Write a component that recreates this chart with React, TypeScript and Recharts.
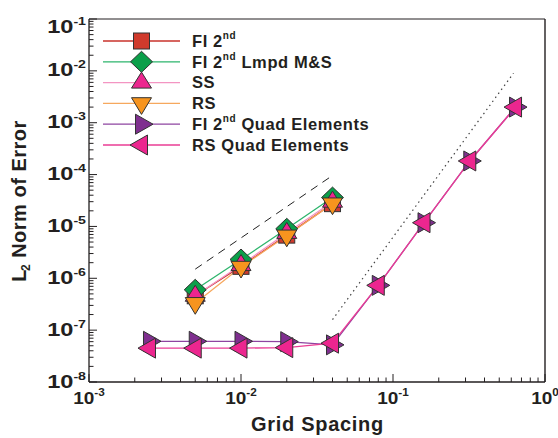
import React from 'react';
import { LineChart, Line, XAxis, YAxis, ReferenceLine, Legend } from 'recharts';

// ---- data ----
const X_GROUP1 = [0.005, 0.01, 0.02, 0.04];
const FI2 = [4.6e-7, 1.7e-6, 6.8e-6, 2.75e-5];
const FI2_LMPD = [6.0e-7, 2.3e-6, 9.0e-6, 3.6e-5];
const SS = [4.6e-7, 1.8e-6, 7.5e-6, 3.0e-5];
const RS = [3.3e-7, 1.65e-6, 6.6e-6, 2.75e-5];

const X_QUAD = [0.0025, 0.005, 0.01, 0.02, 0.04, 0.08, 0.16, 0.32, 0.64];
const FI2_QUAD = [6.1e-8, 6.1e-8, 6.1e-8, 6.0e-8, 5.2e-8, 7.3e-7, 1.18e-5, 1.83e-4, 2.0e-3];
const RS_QUAD = [4.5e-8, 4.5e-8, 4.5e-8, 4.6e-8, 5.6e-8, 7.3e-7, 1.18e-5, 1.83e-4, 2.0e-3];

const SECOND_ORDER_X = [0.005, 0.04];
const SECOND_ORDER_Y = [1.5e-6, 9.6e-5];
const FOURTH_ORDER_X = [0.04, 0.62];
const FOURTH_ORDER_Y = [1.6e-7, 9.0e-3];

const X_MAJOR = [0.001, 0.01, 0.1, 1];
const Y_MAJOR = [1e-8, 1e-7, 1e-6, 1e-5, 1e-4, 1e-3, 1e-2, 1e-1];
const X_DOMAIN = [0.001, 1];
const Y_DOMAIN = [1e-8, 0.1];

const X_TITLE = 'Grid Spacing';
const Y_TITLE_MAIN = 'L';
const Y_TITLE_SUB = '2';
const Y_TITLE_REST = ' Norm of Error';

const zip = (xs: number[], ys: number[]) => xs.map((x, i) => ({ x, y: ys[i] }));

const minorTicks = (majors: number[]) => {
  const out: number[] = [];
  majors.forEach((m, i) => {
    out.push(m);
    if (i < majors.length - 1) {
      for (let k = 2; k <= 9; k++) out.push(parseFloat((m * k).toPrecision(6)));
    }
  });
  return out;
};

const X_TICKS = minorTicks(X_MAJOR);
const Y_TICKS = minorTicks(Y_MAJOR);

type SeriesCfg = {
  name: string;
  sup?: string;
  rest?: string;
  data: { x: number; y: number }[];
  shape: string;
  fill: string;
  line: string;
};

const SERIES: SeriesCfg[] = [
  { name: 'FI 2nd', sup: 'nd', rest: '', data: zip(X_GROUP1, FI2), shape: 'square', fill: '#d03a2c', line: '#c8322b' },
  { name: 'FI 2nd Lmpd M&S', sup: 'nd', rest: ' Lmpd M&S', data: zip(X_GROUP1, FI2_LMPD), shape: 'diamond', fill: '#0b9f4a', line: '#2db56c' },
  { name: 'SS', data: zip(X_GROUP1, SS), shape: 'up', fill: '#ec268f', line: '#f395c2' },
  { name: 'RS', data: zip(X_GROUP1, RS), shape: 'down', fill: '#f7941e', line: '#f6a85e' },
  { name: 'FI 2nd Quad Elements', sup: 'nd', rest: ' Quad Elements', data: zip(X_QUAD, FI2_QUAD), shape: 'right', fill: '#7f2f8f', line: '#8e44a0' },
  { name: 'RS Quad Elements', data: zip(X_QUAD, RS_QUAD), shape: 'left', fill: '#ec268f', line: '#ea3d95' },
];

const FONT = '"Liberation Sans", Arial, Helvetica, sans-serif';
const INK = '#231f20';

const Marker = ({ shape, cx, cy, fill }: { shape: string; cx: number; cy: number; fill: string }) => {
  const s = { fill, stroke: '#333', strokeWidth: 1 };
  let pts = '';
  switch (shape) {
    case 'square':
      return <rect x={cx - 8} y={cy - 8} width={16} height={16} {...s} />;
    case 'diamond':
      pts = `${cx},${cy - 10.5} ${cx + 11},${cy} ${cx},${cy + 10.5} ${cx - 11},${cy}`;
      break;
    case 'up':
      pts = `${cx},${cy - 10.5} ${cx + 10},${cy + 5.5} ${cx - 10},${cy + 5.5}`;
      break;
    case 'down':
      pts = `${cx},${cy + 11} ${cx + 10},${cy - 5.7} ${cx - 10},${cy - 5.7}`;
      break;
    case 'right':
      pts = `${cx + 11.5},${cy} ${cx - 6},${cy - 10} ${cx - 6},${cy + 10}`;
      break;
    case 'left':
      pts = `${cx - 11.5},${cy} ${cx + 6},${cy - 10} ${cx + 6},${cy + 10}`;
      break;
  }
  return <polygon points={pts} {...s} />;
};

const isMajor = (v: number) => {
  const e = Math.round(Math.log10(v));
  return Math.abs(v / Math.pow(10, e) - 1) < 1e-6;
};

const XTick = (props: any) => {
  const { x, y, payload } = props;
  const v = payload.value;
  const major = isMajor(v);
  const e = Math.round(Math.log10(v));
  return (
    <g>
      <line x1={x} x2={x} y1={y} y2={y - (major ? 8 : 4.5)} stroke={INK} strokeWidth={1} />
      {major && (
        <g transform={`translate(${x},${y + 22})`}>
          <text transform="scale(1.12,1)" textAnchor="middle" fontFamily={FONT} fontWeight="bold" fill={INK}>
            <tspan fontSize={17}>10</tspan>
            <tspan fontSize={10.5} dy={-8}>{e === 0 ? '0' : `-${-e}`}</tspan>
          </text>
        </g>
      )}
    </g>
  );
};

const YTick = (props: any) => {
  const { x, y, payload } = props;
  const v = payload.value;
  const major = isMajor(v);
  const e = Math.round(Math.log10(v));
  const dy = e === -1 ? 14 : 5.5;
  return (
    <g>
      <line x1={x} x2={x + (major ? 8 : 4.5)} y1={y} y2={y} stroke={INK} strokeWidth={1} />
      {major && (
        <g transform={`translate(${x - 3},${y + dy})`}>
          <text transform="scale(1.35,1)" textAnchor="end" fontFamily={FONT} fontWeight="bold" fill={INK}>
            <tspan fontSize={17.5}>10</tspan>
            <tspan fontSize={10.5} dy={-8}>{`-${-e}`}</tspan>
          </text>
        </g>
      )}
    </g>
  );
};

const XTitle = () => (
  <text x={317.5} y={430.5} textAnchor="middle" fontFamily={FONT} fontWeight="bold" fontSize={20} letterSpacing={0.7} fill={INK}>
    {X_TITLE}
  </text>
);

const YTitle = () => (
  <text transform="translate(26,201) rotate(-90)" textAnchor="middle" fontFamily={FONT} fontWeight="bold" fontSize={20} letterSpacing={0.5} fill={INK}>
    <tspan>{Y_TITLE_MAIN}</tspan>
    <tspan fontSize={12} dy={4} dx={-2}>{Y_TITLE_SUB}</tspan>
    <tspan dy={-4}>{Y_TITLE_REST}</tspan>
  </text>
);

const LegendContent = (props: any) => {
  const payload = (props.payload || []) as any[];
  const names = new Set(payload.map((p) => p.value));
  const items = SERIES.filter((s) => names.has(s.name));
  return (
    <svg width={558} height={170} style={{ display: 'block', overflow: 'visible' }}>
      {items.map((s, i) => {
        const cy = 41 + i * 20.8;
        const base = s.sup ? s.name.split(' ')[0] + ' 2' : s.name;
        return (
          <g key={s.name}>
            <line x1={103} x2={180} y1={cy} y2={cy} stroke={s.line} strokeWidth={1.3} />
            <Marker shape={s.shape} cx={141.5} cy={cy} fill={s.fill} />
            <text x={192} y={cy + 5.8} fontFamily={FONT} fontWeight="bold" fontSize={16.5} letterSpacing={0.6} fill={INK}>
              <tspan>{base}</tspan>
              {s.sup && (
                <tspan fontSize={10} dy={-8}>
                  {s.sup}
                </tspan>
              )}
              {s.sup && <tspan dy={8}>{s.rest}</tspan>}
            </text>
          </g>
        );
      })}
    </svg>
  );
};

export default function App() {
  return (
    <div style={{ position: 'absolute', left: 0, top: 0, width: 558, height: 438, background: '#fff' }}>
      <LineChart width={558} height={438} margin={{ top: 19, right: 13, bottom: 0, left: 29 }}>
        <XAxis
          dataKey="x"
          type="number"
          scale="log"
          domain={X_DOMAIN}
          allowDataOverflow
          ticks={X_TICKS}
          interval={0}
          tickSize={0}
          tickMargin={0}
          tickLine={false}
          tick={<XTick />}
          height={56}
          axisLine={{ stroke: INK, strokeWidth: 1.3 }}
          label={<XTitle />}
        />
        <YAxis
          dataKey="y"
          type="number"
          scale="log"
          domain={Y_DOMAIN}
          allowDataOverflow
          ticks={Y_TICKS}
          interval={0}
          tickSize={0}
          tickMargin={0}
          tickLine={false}
          tick={<YTick />}
          width={60}
          axisLine={{ stroke: INK, strokeWidth: 1.3 }}
          label={<YTitle />}
        />
        <ReferenceLine y={Y_DOMAIN[1]} stroke={INK} strokeWidth={1} />
        <ReferenceLine x={X_DOMAIN[1]} stroke={INK} strokeWidth={1.4} />
        <Line
          data={zip(SECOND_ORDER_X, SECOND_ORDER_Y)}
          dataKey="y"
          stroke="#222"
          strokeWidth={1}
          strokeDasharray="8 6"
          dot={false}
          legendType="none"
          isAnimationActive={false}
        />
        <Line
          data={zip(FOURTH_ORDER_X, FOURTH_ORDER_Y)}
          dataKey="y"
          stroke="#444"
          strokeWidth={1.2}
          strokeDasharray="1.5 3.5"
          dot={false}
          legendType="none"
          isAnimationActive={false}
        />
        {SERIES.map((s) => (
          <Line
            key={s.name}
            name={s.name}
            data={s.data}
            dataKey="y"
            type="linear"
            stroke={s.line}
            strokeWidth={1.3}
            isAnimationActive={false}
            dot={(p: any) =>
              p.cx == null || p.cy == null ? (
                <g key={`${s.name}-${p.index}`} />
              ) : (
                <Marker key={`${s.name}-${p.index}`} shape={s.shape} cx={p.cx} cy={p.cy} fill={s.fill} />
              )
            }
            activeDot={false}
          />
        ))}
        <Legend
          layout="vertical"
          align="center"
          verticalAlign="middle"
          content={<LegendContent />}
          wrapperStyle={{ position: 'absolute', left: 0, top: 0, width: 558, height: 170, margin: 0, padding: 0 }}
        />
      </LineChart>
    </div>
  );
}
